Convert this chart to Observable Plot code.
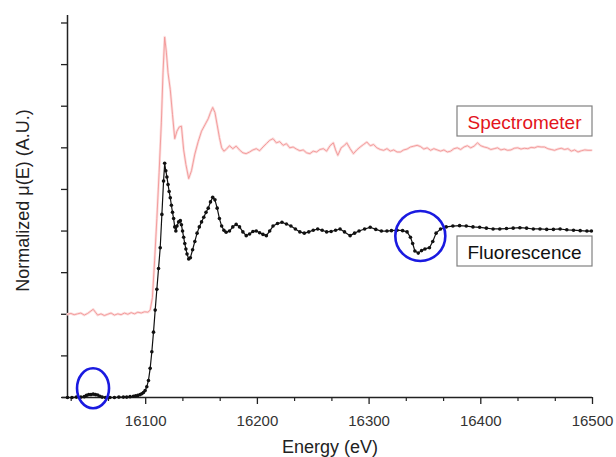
<!DOCTYPE html>
<html>
<head>
<meta charset="utf-8">
<script src="https://cdn.jsdelivr.net/npm/d3@7"></script>
<script src="https://cdn.jsdelivr.net/npm/@observablehq/plot@0.6"></script>
<style>
  html, body { margin: 0; padding: 0; background: white; }
</style>
</head>
<body>
<div id="chart"></div>
<script>
// ---- Data ----
const fluE = [16030,16034,16038,16042,16045,16047,16049,16051,16053,16055,16057,16059,16061,16064,16068,16072,16076,16080,16083,16086,16089,16091,16093,16095,16096.5,16098,16099.5,16101,16102.5,16104,16105.5,16107,16108.5,16110,16111.5,16113,16114.5,16116,16117,16118,16119,16120,16121,16122,16123,16124,16125,16126,16127,16128,16129.5,16131,16132,16133,16134,16135,16136,16137,16138.5,16140,16142,16144,16146,16148,16150,16152,16154,16156,16158,16160,16162,16164,16166,16168,16170,16172,16175,16178,16181,16184,16187,16190,16193,16196,16199,16202,16205,16208,16211,16214,16218,16222,16226,16230,16234,16238,16242,16246,16250,16254,16258,16262,16266,16270,16274,16278,16283,16287,16291,16296,16301,16306,16311,16316,16320,16325,16330,16334,16337,16339,16341,16344,16347,16350,16354,16357,16360,16364,16369,16375,16381,16387,16393,16399,16405,16411,16417,16423,16429,16435,16441,16447,16453,16459,16465,16471,16477,16483,16489,16495,16499];
const fluMu = [0.00,0.00,0.01,0.01,0.02,0.05,0.07,0.07,0.08,0.07,0.06,0.03,0.01,0.00,0.00,0.00,0.01,0.01,0.01,0.02,0.03,0.04,0.05,0.07,0.09,0.12,0.17,0.26,0.41,0.70,1.10,1.57,2.10,2.60,3.10,3.60,4.40,5.20,5.63,5.45,5.30,5.12,4.95,4.80,4.62,4.45,4.30,4.10,4.00,4.12,4.22,4.25,4.15,4.00,3.85,3.70,3.57,3.45,3.33,3.36,3.55,3.75,3.95,4.10,4.22,4.33,4.45,4.55,4.70,4.81,4.75,4.55,4.30,4.12,4.02,3.97,4.00,4.10,4.16,4.10,3.98,3.89,3.93,3.99,4.00,3.96,3.92,3.89,4.00,4.12,4.18,4.21,4.17,4.12,4.05,3.98,3.95,3.98,4.02,4.05,4.02,3.98,3.99,4.02,4.05,3.98,3.89,3.95,4.00,4.05,4.09,4.04,4.00,4.00,4.01,4.02,4.01,3.98,3.85,3.70,3.52,3.47,3.53,3.57,3.60,3.75,3.95,4.05,4.10,4.12,4.13,4.12,4.10,4.09,4.07,4.05,4.05,4.06,4.07,4.08,4.07,4.05,4.05,4.04,4.04,4.05,4.03,4.02,4.01,4.00,4.00];

const specE = [16030,16033,16036,16039,16042,16045,16048,16051,16053,16055,16057,16060,16063,16066,16069,16072,16075,16078,16081,16084,16087,16090,16093,16096,16099,16102,16104,16106,16108,16110,16112,16114,16115.5,16117,16118.5,16120,16122,16124,16126,16128,16130,16132,16134,16136,16138.5,16141,16144,16147,16150,16153,16156,16158,16160,16162,16164,16166,16168,16170,16172,16175,16178,16181,16184,16187,16190,16193,16196,16199,16202,16205,16208,16211,16214,16217,16220,16223,16226,16229,16232,16235,16238,16241,16244,16247,16250,16253,16256,16259,16262,16265,16268,16270,16272,16275,16278,16280,16283,16286,16289,16292,16295,16298,16301,16304,16307,16310,16313,16316,16319,16322,16325,16328,16331,16334,16337,16340,16343,16346,16349,16352,16355,16358,16361,16364,16367,16370,16373,16376,16379,16382,16385,16388,16391,16394,16397,16400,16403,16406,16409,16412,16415,16418,16421,16424,16427,16430,16433,16436,16439,16442,16445,16448,16451,16454,16457,16460,16463,16466,16469,16472,16475,16478,16481,16484,16487,16490,16493,16496,16499];
const specMu = [2.00,2.02,1.99,2.01,2.03,1.98,2.02,2.08,2.12,2.05,1.98,2.01,1.97,2.00,2.03,1.98,2.01,1.99,2.03,2.00,2.04,2.01,2.05,2.03,2.06,2.05,2.10,2.40,3.30,4.30,5.40,6.60,7.80,8.66,8.30,7.80,7.40,6.80,6.22,6.40,6.50,6.52,5.95,5.60,5.26,5.45,5.85,6.15,6.40,6.55,6.70,6.85,6.97,6.85,6.55,6.25,6.00,5.92,5.96,6.05,5.98,6.04,5.95,5.88,5.86,5.90,5.95,5.98,5.93,6.02,6.10,6.18,6.22,6.12,6.15,6.06,6.10,6.00,6.02,5.97,5.93,5.95,5.88,5.86,5.92,5.90,5.96,5.98,5.92,6.05,6.12,5.95,5.82,6.00,6.06,6.12,5.98,5.86,5.95,6.02,6.08,6.14,6.05,6.08,6.00,5.96,5.94,5.98,5.92,5.95,5.90,5.90,5.95,5.97,6.02,6.04,6.06,6.03,5.97,6.00,5.94,5.98,5.95,5.92,5.95,5.90,5.92,5.98,6.00,5.96,6.02,6.05,6.00,6.04,6.12,6.05,6.02,6.00,5.96,5.98,6.00,5.95,5.97,5.94,5.95,5.99,6.00,5.97,5.99,5.98,6.01,6.00,6.03,6.02,6.02,5.98,5.96,5.94,5.97,5.99,5.96,5.98,5.92,5.95,5.90,5.93,5.95,5.94,5.94];

// highlighted regions (blue circles)
const circleE = [16053.3, 16346.3];
const circleMu = [0.21, 3.87];

// axis ticks
const xMajorTicks = [16100, 16200, 16300, 16400, 16500];
const xMinorTicks = [16033.3, 16066.7, 16133.3, 16166.7, 16233.3, 16266.7, 16333.3, 16366.7, 16433.3, 16466.7];
const yTicks = [0, 1, 2, 3, 4, 5, 6, 7, 8, 9];

const seriesNames = ["Spectrometer", "Fluorescence"];
const xLabel = "Energy (eV)";
const yLabel = "Normalized μ(E) (A.U.)";

// ---- build tables ----
const flu = fluE.map((e, i) => ({E: e, mu: fluMu[i]}));
const spec = specE.map((e, i) => ({E: e, mu: specMu[i]}));
const circles = circleE.map((e, i) => ({E: e, mu: circleMu[i], rx: i === 0 ? 16 : 25, ry: i === 0 ? 20 : 25}));

const FONT = "'Liberation Sans', Arial, Helvetica, sans-serif";

function circleMark(index, scales, values, dims) {
  const g = d3.create("svg:g");
  for (const c of circles) {
    g.append("ellipse")
      .attr("cx", scales.x(c.E)).attr("cy", scales.y(c.mu))
      .attr("rx", c.rx).attr("ry", c.ry)
      .attr("fill", "none").attr("stroke", "#1a1ae0").attr("stroke-width", 2.6);
  }
  return g.node();
}

function legendMark(index, scales, values, dims) {
  const g = d3.create("svg:g").attr("font-family", FONT);
  const right = dims.width - dims.marginRight;
  const boxes = [
    {label: seriesNames[0], color: "#e3141c", top: 106},
    {label: seriesNames[1], color: "#111", top: 236}
  ];
  const w = 135, h = 30;
  for (const b of boxes) {
    g.append("rect").attr("x", right - w).attr("y", b.top).attr("width", w).attr("height", h)
      .attr("fill", "white").attr("stroke", "#808080").attr("stroke-width", 1.2);
    g.append("text").attr("x", right - w / 2).attr("y", b.top + h / 2 + 1)
      .attr("text-anchor", "middle").attr("dominant-baseline", "central")
      .attr("font-size", 19).attr("fill", b.color).text(b.label);
  }
  return g.node();
}

const chart = Plot.plot({
  width: 616,
  height: 457,
  marginLeft: 67,
  marginRight: 24,
  marginTop: 15,
  marginBottom: 60,
  style: {background: "white", fontFamily: FONT, overflow: "visible"},
  x: {domain: [16030, 16500]},
  y: {domain: [0, 9.18]},
  marks: [
    // axes lines
    Plot.ruleY([0], {stroke: "#222", strokeWidth: 1.5, insetLeft: -5}),
    Plot.ruleX([16030], {stroke: "#222", strokeWidth: 1.5}),
    Plot.axisX({ticks: xMajorTicks, tickSize: 7, tickPadding: 11, fontSize: 15, tickFormat: d => String(d), label: null, stroke: "#222", strokeWidth: 1.3, color: "#333"}),
    Plot.axisX({ticks: xMinorTicks, tickSize: 4, tickFormat: () => "", label: null, stroke: "#222", strokeWidth: 1.2}),
    Plot.axisY({ticks: yTicks, tickSize: 6, tickFormat: () => "", label: null, stroke: "#222", strokeWidth: 1.3}),
    // axis titles
    Plot.text([xLabel], {frameAnchor: "bottom", dy: 55, text: d => d, fontSize: 18, fill: "#222"}),
    Plot.text([yLabel], {frameAnchor: "left", textAnchor: "middle", dx: -44, dy: -6, rotate: -90, text: d => d, fontSize: 18, fill: "#222"}),
    // spectrometer (red, noisy thin line with halo)
    Plot.line(spec, {x: "E", y: "mu", stroke: "#fcdede", strokeWidth: 2.6}),
    Plot.line(spec, {x: "E", y: "mu", stroke: "#f29595", strokeWidth: 0.9}),
    // fluorescence (black dots joined by thin line)
    Plot.line(flu, {x: "E", y: "mu", stroke: "#111", strokeWidth: 1.2}),
    Plot.dot(flu, {x: "E", y: "mu", fill: "#111", r: 1.8, stroke: null}),
    circleMark,
    legendMark
  ]
});
document.getElementById("chart").appendChild(chart);
</script>
</body>
</html>
